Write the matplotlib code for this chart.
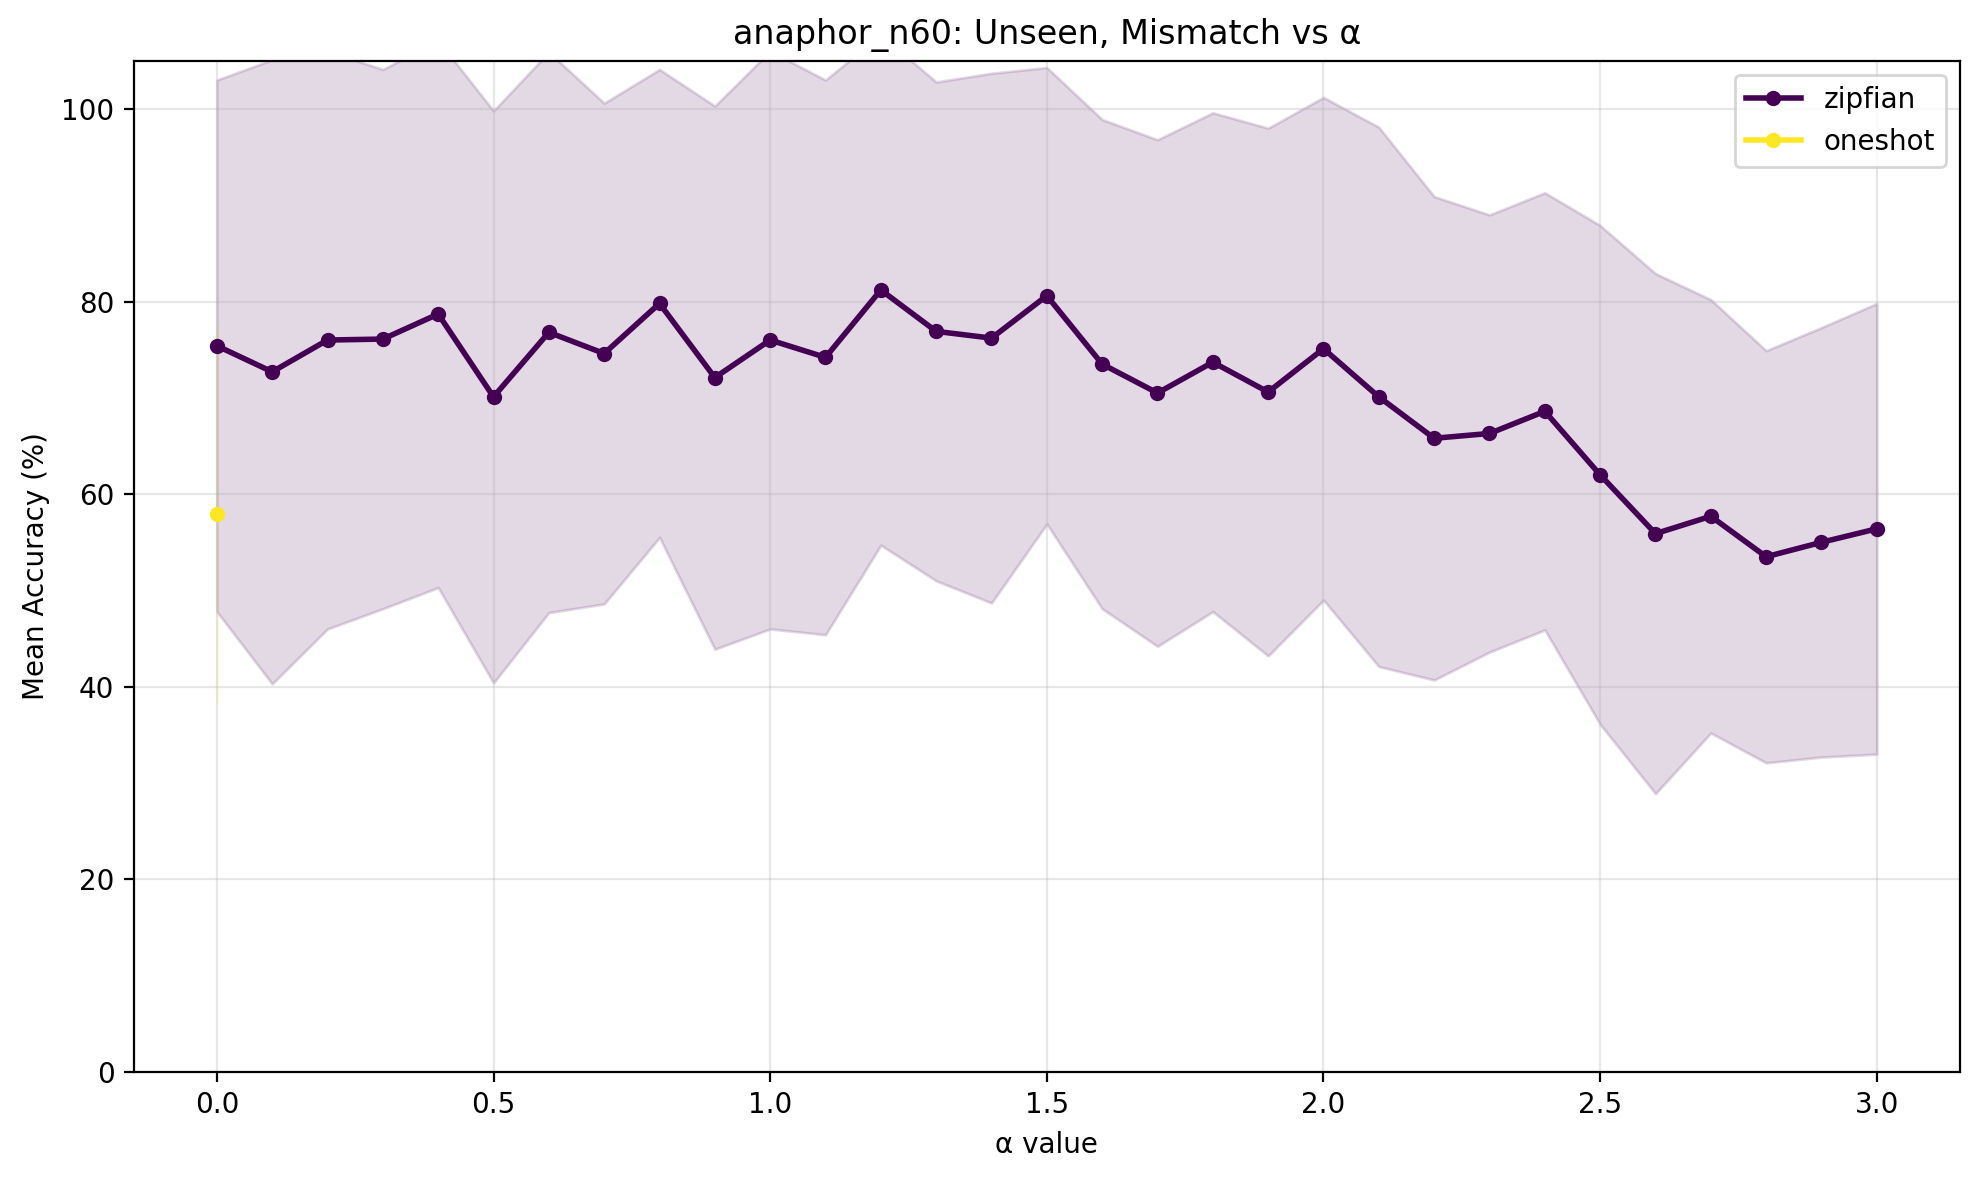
import numpy as np
import matplotlib
matplotlib.use('Agg')
import matplotlib.pyplot as plt

alphas = [0.0, 0.1, 0.2, 0.3, 0.4, 0.5, 0.6, 0.7, 0.8, 0.9,
          1.0, 1.1, 1.2, 1.3, 1.4, 1.5, 1.6, 1.7, 1.8, 1.9,
          2.0, 2.1, 2.2, 2.3, 2.4, 2.5, 2.6, 2.7, 2.8, 2.9, 3.0]

zipf_mean = [75.4, 72.7, 76.0, 76.1, 78.7, 70.1, 76.8, 74.6, 79.8, 72.1,
             76.0, 74.2, 81.2, 76.9, 76.2, 80.6, 73.5, 70.5, 73.7, 70.6,
             75.1, 70.1, 65.8, 66.3, 68.6, 62.0, 55.9, 57.7, 53.5, 55.0, 56.4]
zipf_std = [27.6, 32.4, 30.0, 28.0, 28.4, 29.7, 29.1, 26.0, 24.3, 28.2,
            30.0, 28.8, 26.5, 25.9, 27.5, 23.7, 25.4, 26.3, 25.9, 27.4,
            26.1, 28.0, 25.1, 22.7, 22.7, 25.9, 27.0, 22.5, 21.4, 22.3, 23.4]

oneshot_alpha = [0.0]
oneshot_mean = [57.9]
oneshot_std = [19.6]

cmap = plt.get_cmap('viridis')
c_zipf = cmap(0.0)
c_one = cmap(1.0)

fig, ax = plt.subplots(figsize=(9.9, 5.885), dpi=200)

zm = np.array(zipf_mean)
zs = np.array(zipf_std)
ax.plot(alphas, zm, 'o-', color=c_zipf, linewidth=2, markersize=4.5, label='zipfian')
ax.fill_between(alphas, zm - zs, zm + zs, color=c_zipf, alpha=0.15)

om = np.array(oneshot_mean)
osd = np.array(oneshot_std)
ax.plot(oneshot_alpha, om, 'o-', color=c_one, linewidth=2, markersize=4.5, label='oneshot')
ax.fill_between(oneshot_alpha, om - osd, om + osd, color=c_one, alpha=0.15)

ax.set_xlabel('α value')
ax.set_ylabel('Mean Accuracy (%)')
ax.set_title('anaphor_n60: Unseen, Mismatch vs α')
ax.set_ylim(0, 105)
ax.grid(True, alpha=0.3)
ax.legend(loc='upper right')

fig.subplots_adjust(left=0.0676, right=0.9898, top=0.9484, bottom=0.0892)
plt.savefig('out.png', dpi=200)
